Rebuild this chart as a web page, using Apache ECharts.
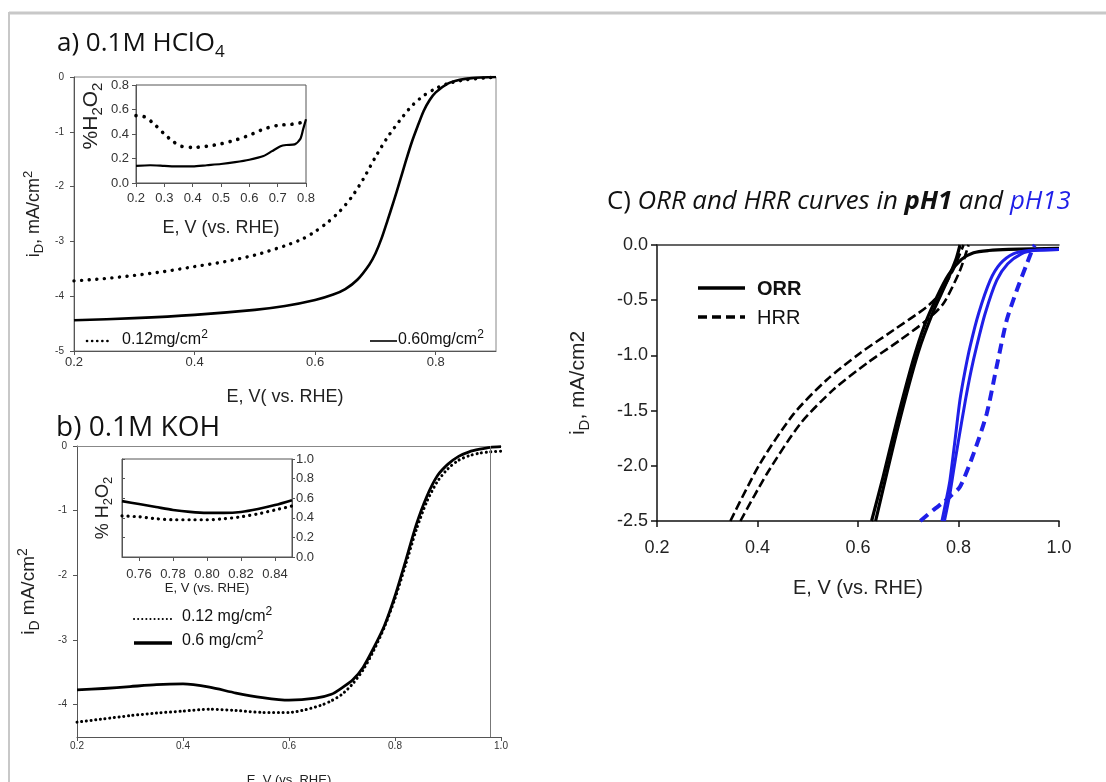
<!DOCTYPE html>
<html>
<head>
<meta charset="utf-8">
<script src="https://cdn.jsdelivr.net/npm/echarts@6/dist/echarts.min.js"></script>
<style>
  html, body { margin: 0; padding: 0; background: #fff; }
  #chart { width: 1106px; height: 782px; }
</style>
</head>
<body>
<div id="chart"></div>
<script>
// a) 0.1M HClO4 : disk current iD (mA/cm2) vs E (V vs RHE)
var aLoad012 = [[0.20,-3.72],[0.25,-3.68],[0.30,-3.62],[0.35,-3.55],[0.40,-3.46],[0.45,-3.37],[0.50,-3.25],
  [0.55,-3.08],[0.58,-2.95],[0.60,-2.82],[0.62,-2.66],[0.64,-2.46],[0.66,-2.20],[0.68,-1.86],[0.70,-1.46],
  [0.72,-1.10],[0.74,-0.80],[0.76,-0.53],[0.78,-0.34],[0.80,-0.21],[0.82,-0.12],[0.85,-0.05],[0.88,-0.02],[0.90,0]];
var aLoad060 = [[0.20,-4.44],[0.30,-4.40],[0.40,-4.34],[0.50,-4.25],[0.55,-4.18],[0.60,-4.07],[0.63,-3.97],
  [0.65,-3.87],[0.67,-3.70],[0.69,-3.42],[0.70,-3.22],[0.71,-2.95],[0.72,-2.62],[0.73,-2.28],[0.74,-1.92],
  [0.75,-1.55],[0.76,-1.20],[0.77,-0.90],[0.78,-0.62],[0.79,-0.42],[0.80,-0.28],[0.82,-0.12],[0.84,-0.05],
  [0.86,-0.02],[0.90,0]];
// a) inset : %H2O2
var aH2O2Load012 = [[0.20,0.55],[0.23,0.54],[0.26,0.49],[0.30,0.40],[0.33,0.34],[0.36,0.30],[0.40,0.29],
  [0.45,0.30],[0.50,0.32],[0.55,0.35],[0.60,0.39],[0.65,0.44],[0.70,0.47],[0.75,0.48],[0.80,0.50]];
var aH2O2Load060 = [[0.20,0.14],[0.25,0.145],[0.30,0.14],[0.35,0.135],[0.40,0.135],[0.45,0.145],[0.50,0.155],
  [0.55,0.17],[0.60,0.19],[0.65,0.22],[0.68,0.26],[0.71,0.30],[0.73,0.31],[0.76,0.315],[0.78,0.36],
  [0.79,0.44],[0.80,0.52]];

// b) 0.1M KOH
var bLoad012 = [[0.20,-4.27],[0.25,-4.22],[0.30,-4.17],[0.35,-4.13],[0.40,-4.10],[0.45,-4.07],[0.50,-4.09],
  [0.55,-4.12],[0.60,-4.12],[0.63,-4.08],[0.66,-4.01],[0.68,-3.94],[0.70,-3.84],[0.72,-3.68],[0.74,-3.46],
  [0.76,-3.16],[0.78,-2.80],[0.80,-2.36],[0.82,-1.84],[0.84,-1.30],[0.86,-0.86],[0.88,-0.55],[0.90,-0.35],
  [0.92,-0.22],[0.94,-0.15],[0.96,-0.11],[0.98,-0.09],[1.00,-0.08]];
var bLoad06 = [[0.20,-3.77],[0.25,-3.75],[0.30,-3.72],[0.35,-3.69],[0.40,-3.68],[0.45,-3.73],[0.50,-3.82],
  [0.55,-3.89],[0.60,-3.93],[0.65,-3.90],[0.68,-3.84],[0.70,-3.74],[0.72,-3.62],[0.74,-3.42],[0.76,-3.12],
  [0.78,-2.78],[0.80,-2.32],[0.82,-1.78],[0.84,-1.22],[0.86,-0.78],[0.88,-0.46],[0.90,-0.28],[0.92,-0.16],
  [0.94,-0.09],[0.96,-0.05],[0.98,-0.02],[1.00,-0.01]];
var bYTicks = [0, -1, -2, -3, -4];
// b) inset : % H2O2
var bH2O2Load012 = [[0.75,0.42],[0.76,0.41],[0.77,0.39],[0.78,0.38],[0.79,0.38],[0.80,0.38],[0.81,0.39],
  [0.82,0.41],[0.83,0.44],[0.84,0.48],[0.85,0.52]];
var bH2O2Load06 = [[0.75,0.57],[0.76,0.54],[0.77,0.51],[0.78,0.48],[0.79,0.46],[0.80,0.45],[0.81,0.45],
  [0.82,0.46],[0.83,0.49],[0.84,0.53],[0.85,0.58]];
var bInsetXTicks = [0.76, 0.78, 0.80, 0.82, 0.84];

// C) ORR and HRR curves, pH1 (black) and pH13 (blue)
var orrPH1a = [[0.627,-2.5],[0.65,-2.10],[0.677,-1.60],[0.71,-1.04],[0.733,-0.72],[0.757,-0.47],[0.78,-0.27],
  [0.806,-0.13],[0.83,-0.07],[0.86,-0.05],[0.90,-0.04],[1.00,-0.03]];
var orrPH1b = [[0.635,-2.5],[0.68,-1.64],[0.72,-0.97],[0.75,-0.60],[0.775,-0.35],[0.795,-0.13],[0.803,0]];
var hrrPH1a = [[0.346,-2.5],[0.405,-1.98],[0.472,-1.53],[0.538,-1.22],[0.604,-0.98],[0.671,-0.77],
  [0.737,-0.56],[0.763,-0.44],[0.790,-0.22],[0.803,-0.08],[0.810,0]];
var hrrPH1b = [[0.366,-2.5],[0.419,-2.07],[0.485,-1.62],[0.551,-1.31],[0.618,-1.07],[0.684,-0.86],
  [0.737,-0.68],[0.770,-0.53],[0.803,-0.23],[0.820,0]];
var orrPH13a = [[0.767,-2.5],[0.776,-2.30],[0.783,-2.13],[0.793,-1.77],[0.803,-1.40],[0.813,-1.14],
  [0.823,-0.92],[0.840,-0.62],[0.863,-0.32],[0.883,-0.17],[0.909,-0.08],[0.94,-0.05],[0.97,-0.045],[1.00,-0.04]];
var orrPH13b = [[0.772,-2.5],[0.783,-2.25],[0.790,-2.05],[0.800,-1.77],[0.814,-1.40],[0.825,-1.14],
  [0.836,-0.92],[0.853,-0.62],[0.876,-0.32],[0.898,-0.17],[0.925,-0.08],[0.95,-0.05],[1.00,-0.04]];
var hrrPH13 = [[0.724,-2.5],[0.750,-2.40],[0.770,-2.33],[0.783,-2.28],[0.803,-2.19],[0.830,-1.89],
  [0.856,-1.53],[0.876,-1.10],[0.896,-0.68],[0.916,-0.41],[0.936,-0.17],[0.949,-0.02],[0.952,0]];

var FONT = '"Liberation Sans", Arial, sans-serif';
var TFONT = '"Open Sans", sans-serif';
var BLUE = '#1f1fe8';

// rich text pieces: color for echarts labels, fill for graphic texts
function rich(size, color, weight) {
  return {
    t: {fontFamily: FONT, fontSize: size, color: color, fill: color, fontWeight: weight || 'normal', lineHeight: Math.round(size * 1.35)},
    sub: {fontFamily: FONT, fontSize: Math.round(size * 0.72), color: color, fill: color, verticalAlign: 'bottom'},
    sup: {fontFamily: FONT, fontSize: Math.round(size * 0.72), color: color, fill: color, verticalAlign: 'top'}
  };
}
function nameStyle(size, color, padding) {
  return {fontFamily: FONT, fontSize: size, color: color, padding: padding, rich: rich(size, color)};
}
function fix(n) { return function (v) { return v.toFixed(n); }; }

function axis(o) {
  var lc = o.lineColor || '#555';
  return {
    type: 'value', gridIndex: o.grid, min: o.min, max: o.max, interval: o.interval,
    position: o.position, show: true,
    name: o.name, nameLocation: 'middle', nameGap: o.nameGap, nameRotate: o.nameRotate,
    nameTextStyle: o.nameStyle,
    axisLine: {show: o.line !== false, onZero: false, lineStyle: {color: lc, width: o.lineWidth || 1}},
    axisTick: {show: o.ticks !== false, inside: !!o.inside, length: o.tickLen || 4,
      customValues: o.tickValues, lineStyle: {color: lc, width: o.lineWidth || 1}},
    axisLabel: {show: o.labels !== false, margin: o.margin || 6, fontFamily: FONT, fontSize: o.fontSize || 10,
      color: o.labelColor || '#333', formatter: o.fmt, customValues: o.tickValues,
      showMinLabel: true, showMaxLabel: o.showMax !== false},
    splitLine: {show: false}
  };
}

function series(data, xi, yi, style) {
  return {type: 'line', data: data, xAxisIndex: xi, yAxisIndex: yi, symbol: 'none',
    smooth: 0.25, silent: true, lineStyle: style, z: 3};
}
function dots(color, w, gap) { return {color: color, width: w, type: [0.1, gap], cap: 'round'}; }
function solid(color, w) { return {color: color, width: w, type: 'solid', join: 'round'}; }
function dash(color, w, d, g) { return {color: color, width: w, type: [d, g]}; }

var option = {
  animation: false,
  backgroundColor: '#fff',
  grid: [
    {left: 74, top: 77, width: 422, height: 274, show: true, borderColor: '#888', borderWidth: 1, outerBoundsMode: 'none'},
    {left: 136, top: 85, width: 170, height: 98, show: true, borderColor: '#555', borderWidth: 1, outerBoundsMode: 'none'},
    {left: 77, top: 446, width: 424, height: 291, outerBoundsMode: 'none'},
    {left: 122, top: 459, width: 170, height: 98, show: true, borderColor: '#555', borderWidth: 1, outerBoundsMode: 'none'},
    {left: 657, top: 245, width: 402, height: 276, outerBoundsMode: 'none'}
  ],
  xAxis: [
    axis({grid: 0, min: 0.2, max: 0.9, interval: 0.2, fontSize: 13, margin: 5, fmt: fix(1), showMax: false,
      name: 'E, V( vs. RHE)', nameGap: 37, nameStyle: nameStyle(18, '#222')}),
    axis({grid: 1, min: 0.2, max: 0.8, interval: 0.1, fontSize: 13, margin: 9, fmt: fix(1),
      name: 'E, V (vs. RHE)', nameGap: 36, nameStyle: nameStyle(18, '#222')}),
    axis({grid: 2, min: 0.2, max: 1.0, interval: 0.2, fontSize: 10, margin: 4, fmt: fix(1),
      name: 'E, V (vs. RHE)', nameGap: 37, nameStyle: nameStyle(13, '#222')}),
    axis({grid: 3, min: 0.75, max: 0.85, tickValues: bInsetXTicks, fontSize: 13, margin: 11, fmt: fix(2),
      name: 'E, V (vs. RHE)', nameGap: 23, nameStyle: nameStyle(13, '#222')}),
    axis({grid: 4, min: 0.2, max: 1.0, interval: 0.2, fontSize: 18, margin: 18, tickLen: 6, fmt: fix(1),
      lineColor: '#111', labelColor: '#222', lineWidth: 1.5,
      name: 'E, V (vs. RHE)', nameGap: 57, nameStyle: nameStyle(20, '#222')}),
    axis({grid: 2, min: 0.2, max: 1.0, position: 'top', ticks: false, labels: false, lineColor: '#888'}),
    axis({grid: 4, min: 0.2, max: 1.0, position: 'top', ticks: false, labels: false, lineColor: '#333', lineWidth: 1.5})
  ],
  yAxis: [
    axis({grid: 0, min: -5, max: 0, interval: 1, fontSize: 10, margin: 10,
      name: '{t|i}{sub|D}{t|, mA/cm}{sup|2}', nameRotate: 90, nameGap: 28, nameStyle: nameStyle(18, '#222')}),
    axis({grid: 1, min: 0, max: 0.8, interval: 0.2, fontSize: 13, margin: 7, fmt: fix(1),
      name: '{t|%H}{sub|2}{t|O}{sub|2}', nameRotate: 90, nameGap: 31, nameStyle: nameStyle(21, '#222', [0, 0, 0, 36])}),
    axis({grid: 2, min: -4.5, max: 0, tickValues: bYTicks, fontSize: 10, margin: 10,
      name: '{t|i}{sub|D}{t| mA/cm}{sup|2}', nameRotate: 90, nameGap: 35, nameStyle: nameStyle(19, '#222')}),
    axis({grid: 3, min: 0, max: 1, interval: 0.2, position: 'right', fontSize: 13, margin: 4, tickLen: 3, fmt: fix(1)}),
    axis({grid: 4, min: -2.5, max: 0, interval: 0.5, fontSize: 18, margin: 9, tickLen: 6, fmt: fix(1),
      lineColor: '#111', labelColor: '#222', lineWidth: 1.5,
      name: '{t|i}{sub|D}{t|, mA/cm2}', nameRotate: 90, nameGap: 65, nameStyle: nameStyle(21, '#222')}),
    axis({grid: 3, min: 0, max: 1, interval: 0.2, position: 'left', inside: true, tickLen: 3, labels: false,
      name: '{t|% H}{sub|2}{t|O}{sub|2}', nameRotate: 90, nameGap: 7, nameStyle: nameStyle(18, '#222')})
  ],
  series: [
    series(aLoad012, 0, 0, dots('#000', 3.4, 7.5)),
    series(aLoad060, 0, 0, solid('#000', 2.6)),
    series(aH2O2Load012, 1, 1, dots('#000', 3.6, 8)),
    series(aH2O2Load060, 1, 1, solid('#000', 2.2)),
    series(bLoad012, 2, 2, dots('#000', 3, 4.6)),
    Object.assign(series(bLoad06, 2, 2, solid('#000', 2.8)), {
      markLine: {silent: true, symbol: 'none', label: {show: false},
        lineStyle: {color: '#777', width: 1, type: 'solid'}, data: [{xAxis: 0.98}]}
    }),
    series(bH2O2Load012, 3, 3, dots('#000', 3.2, 6)),
    series(bH2O2Load06, 3, 3, solid('#000', 2.6)),
    series(hrrPH1a, 4, 4, dash('#000', 2.6, 9, 4)),
    series(hrrPH1b, 4, 4, dash('#000', 2.6, 9, 4)),
    series(orrPH1a, 4, 4, solid('#000', 3.2)),
    series(orrPH1b, 4, 4, solid('#000', 3.2)),
    series(orrPH13a, 4, 4, solid(BLUE, 3)),
    series(orrPH13b, 4, 4, solid(BLUE, 3)),
    series(hrrPH13, 4, 4, dash(BLUE, 4, 10, 6))
  ],
  graphic: [
    // outer frame
    {type: 'line', shape: {x1: 9, y1: 13, x2: 1106, y2: 13}, style: {stroke: '#c8c8c8', lineWidth: 3}, silent: true},
    {type: 'line', shape: {x1: 9, y1: 12, x2: 9, y2: 782}, style: {stroke: '#c8c8c8', lineWidth: 2}, silent: true},
    // titles
    {type: 'text', x: 57, y: 44, silent: true, style: {text: '{t|a) 0.1M HClO}{sub|4}', verticalAlign: 'middle',
      rich: {t: {fontFamily: TFONT, fontSize: 26, fill: '#111', lineHeight: 34},
        sub: {fontFamily: TFONT, fontSize: 17, fill: '#111', verticalAlign: 'bottom'}}}},
    {type: 'text', x: 56, y: 428, silent: true, style: {text: 'b) 0.1M KOH', verticalAlign: 'middle',
      fontFamily: TFONT, fontSize: 28, fill: '#111'}},
    {type: 'text', x: 607, y: 202, silent: true, style: {
      text: '{n|C) }{i|ORR and HRR curves in }{b|pH1}{i| and }{c|pH13}', verticalAlign: 'middle',
      rich: {n: {fontFamily: TFONT, fontSize: 25.8, fill: '#111'},
        i: {fontFamily: TFONT, fontSize: 25.8, fill: '#111', fontStyle: 'italic'},
        b: {fontFamily: TFONT, fontSize: 25.8, fill: '#111', fontStyle: 'italic', fontWeight: 'bold'},
        c: {fontFamily: TFONT, fontSize: 25.8, fill: BLUE, fontStyle: 'italic'}}}},
    // legend a
    {type: 'line', shape: {x1: 87, y1: 341, x2: 112, y2: 341}, silent: true,
      style: {stroke: '#000', lineWidth: 2.6, lineDash: [0.1, 5], lineCap: 'round'}},
    {type: 'text', x: 122, y: 340, silent: true, style: {text: '{t|0.12mg/cm}{sup|2}', verticalAlign: 'middle', rich: rich(16, '#111')}},
    {type: 'line', shape: {x1: 370, y1: 341, x2: 397, y2: 341}, silent: true, style: {stroke: '#000', lineWidth: 1.6}},
    {type: 'text', x: 398, y: 340, silent: true, style: {text: '{t|0.60mg/cm}{sup|2}', verticalAlign: 'middle', rich: rich(16, '#111')}},
    // legend b
    {type: 'line', shape: {x1: 134, y1: 619, x2: 172, y2: 619}, silent: true,
      style: {stroke: '#000', lineWidth: 2, lineDash: [0.1, 4], lineCap: 'round'}},
    {type: 'text', x: 182, y: 617, silent: true, style: {text: '{t|0.12 mg/cm}{sup|2}', verticalAlign: 'middle', rich: rich(16, '#111')}},
    {type: 'line', shape: {x1: 134, y1: 643, x2: 172, y2: 643}, silent: true, style: {stroke: '#000', lineWidth: 3.5}},
    {type: 'text', x: 182, y: 641, silent: true, style: {text: '{t|0.6 mg/cm}{sup|2}', verticalAlign: 'middle', rich: rich(16, '#111')}},
    // legend C
    {type: 'line', shape: {x1: 698, y1: 288, x2: 745, y2: 288}, silent: true, style: {stroke: '#000', lineWidth: 3.5}},
    {type: 'text', x: 757, y: 289, silent: true, style: {text: 'ORR', verticalAlign: 'middle',
      fontFamily: FONT, fontSize: 20, fontWeight: 'bold', fill: '#111'}},
    {type: 'line', shape: {x1: 698, y1: 317, x2: 745, y2: 317}, silent: true,
      style: {stroke: '#000', lineWidth: 3.5, lineDash: [9, 5]}},
    {type: 'text', x: 757, y: 318, silent: true, style: {text: 'HRR', verticalAlign: 'middle',
      fontFamily: FONT, fontSize: 20, fill: '#111'}}
  ]
};

var chart = echarts.init(document.getElementById('chart'));
chart.setOption(option);
</script>
</body>
</html>
